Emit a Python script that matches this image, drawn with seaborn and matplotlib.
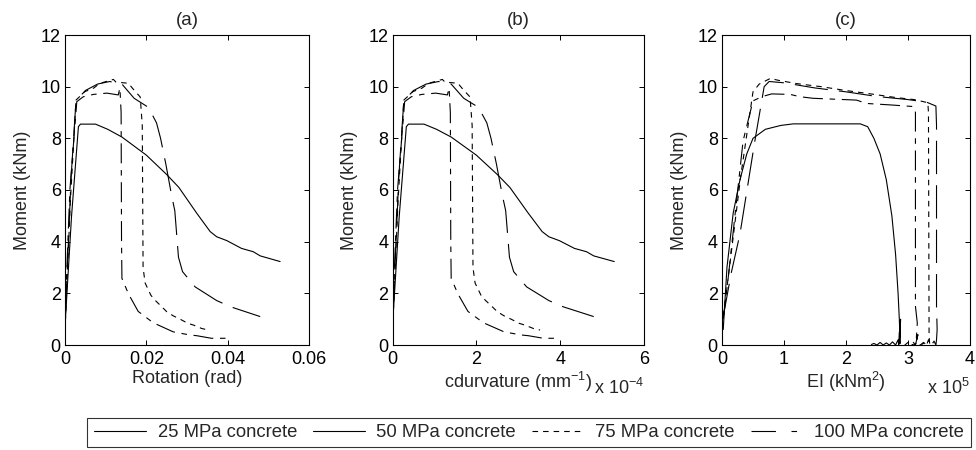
import matplotlib
matplotlib.use("Agg")
import matplotlib.pyplot as plt
from matplotlib.lines import Line2D
from matplotlib.ticker import FuncFormatter
import pandas as pd
import seaborn as sns

# ---------------- data ----------------
series = ["25 MPa concrete", "50 MPa concrete", "75 MPa concrete", "100 MPa concrete"]

# (a) Moment vs rotation (rad)
rot_25 = [0.0001, 0.0016, 0.0033, 0.0038, 0.0075, 0.0105, 0.014, 0.017, 0.020, 0.025,
          0.028, 0.0324, 0.0357, 0.0373, 0.0398, 0.0434, 0.0463, 0.048, 0.0529]
m_25 = [1.0, 4.97, 8.45, 8.55, 8.55, 8.35, 8.05, 7.7, 7.35, 6.6,
        6.1, 5.1, 4.39, 4.19, 4.04, 3.74, 3.61, 3.45, 3.23]

rot_50 = [0.0001, 0.0015, 0.0027, 0.005, 0.008, 0.011, 0.014, 0.017, 0.0205, 0.0225,
          0.0235, 0.0248, 0.0262, 0.027, 0.0279, 0.0289, 0.032, 0.0373, 0.0407, 0.048]
m_50 = [1.2, 6.5, 9.45, 9.85, 10.1, 10.2, 10.1, 9.55, 9.2, 8.6,
        8.0, 7.0, 5.8, 5.2, 3.4, 2.84, 2.25, 1.72, 1.48, 1.1]

rot_75 = [0.0001, 0.0013, 0.0027, 0.0049, 0.007, 0.0086, 0.0119, 0.0125, 0.0156, 0.0168,
          0.0185, 0.019, 0.0192, 0.0197, 0.0211, 0.0221, 0.0238, 0.025, 0.0266, 0.0283,
          0.0302, 0.0316, 0.0336, 0.0352]
m_75 = [0.9, 5.5, 9.48, 9.81, 9.94, 10.13, 10.28, 10.18, 10.13, 9.9,
        9.6, 8.5, 3.0, 2.4, 1.93, 1.74, 1.48, 1.29, 1.13, 1.0,
        0.84, 0.77, 0.64, 0.58]

rot_100 = [0.0001, 0.0012, 0.0029, 0.0045, 0.007, 0.0103, 0.0131, 0.0135, 0.0138, 0.0139,
           0.014, 0.0156, 0.018, 0.0217, 0.0266, 0.0306, 0.0324, 0.036, 0.0396]
m_100 = [1.5, 6.0, 9.42, 9.61, 9.7, 9.75, 9.68, 9.95, 9.0, 4.0,
         2.58, 1.98, 1.3, 0.86, 0.51, 0.39, 0.36, 0.26, 0.26]

# (b) curvature: same curves, x in units of 1e-4 mm^-1 (rotation over 100 mm)
curv_25 = [r * 100 for r in rot_25]
curv_50 = [r * 100 for r in rot_50]
curv_75 = [r * 100 for r in rot_75]
curv_100 = [r * 100 for r in rot_100]

# (c) Moment vs EI (x in units of 1e5 kNm^2)
ei_25 = [0.02, 0.08, 0.18, 0.29, 0.40, 0.50, 0.70, 0.95, 1.15, 2.23, 2.35, 2.45, 2.55,
         2.65, 2.74, 2.80, 2.84, 2.86, 2.87, 2.88, 2.87, 2.86, 2.85, 2.84, 2.80, 2.75,
         2.70, 2.65, 2.60, 2.55, 2.50, 2.45, 2.41]
mc_25 = [0.6, 3.0, 5.1, 6.4, 7.4, 8.0, 8.35, 8.5, 8.56, 8.56, 8.45, 8.0, 7.4,
         6.4, 5.0, 3.5, 2.0, 1.0, 0.3, 1.0, 0.05, 0.5, 0.0, 0.2, 0.0, 0.12,
         0.0, 0.08, 0.0, 0.1, 0.0, 0.06, 0.02]

ei_50 = [0.02, 0.15, 0.29, 0.53, 0.68, 0.76, 1.0, 1.5, 2.0, 2.5, 3.0, 3.3, 3.45, 3.46,
         3.46, 3.47, 3.46, 3.45, 3.42, 3.38, 3.34, 3.30, 3.26, 3.22]
mc_50 = [1.1, 2.8, 4.3, 7.9, 10.0, 10.2, 10.15, 9.95, 9.8, 9.62, 9.5, 9.4, 9.25, 8.5,
         1.5, 0.6, 0.2, 0.0, 0.15, 0.0, 0.1, 0.0, 0.08, 0.02]

ei_75 = [0.0, 0.12, 0.30, 0.50, 0.60, 0.78, 0.90, 1.2, 1.6, 2.0, 2.4, 2.8, 3.1, 3.32,
         3.33, 3.34, 3.35, 3.33, 3.30, 3.25, 3.20, 3.15, 3.10, 3.05]
mc_75 = [0.7, 3.0, 6.5, 9.8, 10.1, 10.32, 10.25, 10.12, 10.0, 9.85, 9.72, 9.58, 9.5, 9.38,
         9.0, 0.4, 0.0, 0.2, 0.0, 0.1, 0.0, 0.12, 0.0, 0.03]

ei_100 = [0.02, 0.10, 0.34, 0.50, 0.64, 0.80, 1.10, 1.26, 1.47, 2.17, 2.33, 2.74, 3.09,
          3.12, 3.12, 3.15, 3.13, 3.16, 3.12, 3.08, 3.04, 3.00, 2.95, 2.90]
mc_100 = [1.0, 2.6, 7.9, 9.45, 9.61, 9.72, 9.70, 9.61, 9.55, 9.48, 9.35, 9.29, 9.23,
          9.0, 1.5, 0.85, 0.1, 0.4, 0.0, 0.12, 0.0, 0.1, 0.0, 0.03]

# ---------------- styling ----------------
sns.set_style("white")
plt.rcParams["font.family"] = ["Liberation Sans", "DejaVu Sans"]
plt.rcParams["mathtext.fontset"] = "custom"
plt.rcParams["mathtext.rm"] = "Liberation Sans"
plt.rcParams["mathtext.it"] = "Liberation Sans:italic"

styles = {
    "25 MPa concrete": "-",
    "50 MPa concrete": (0, (30, 10)),
    "75 MPa concrete": (0, (5, 4.5)),
    "100 MPa concrete": (0, (18, 6, 5, 6)),
}
LW = 0.8
FS = 13

fig = plt.figure(figsize=(9.76, 4.5), dpi=100)
W, H = 976, 450
boxes = [(65, 244), (392.5, 251.5), (722, 248)]
axes = [fig.add_axes([l / W, (H - 345) / H, w / W, 310 / H]) for l, w in boxes]


def draw(ax, xs, ys):
    for name, x, y in zip(series, xs, ys):
        df = pd.DataFrame({"x": x, "y": y})
        sns.lineplot(data=df, x="x", y="y", ax=ax, sort=False, estimator=None,
                     color="black", linewidth=LW, linestyle=styles[name], legend=False)


draw(axes[0], [rot_25, rot_50, rot_75, rot_100], [m_25, m_50, m_75, m_100])
draw(axes[1], [curv_25, curv_50, curv_75, curv_100], [m_25, m_50, m_75, m_100])
draw(axes[2], [ei_25, ei_50, ei_75, ei_100], [mc_25, mc_50, mc_75, mc_100])

fmt = FuncFormatter(lambda v, p: f"{v:g}")
xlims = [(0, 0.06), (0, 6), (0, 4)]
xticks = [[0, 0.02, 0.04, 0.06], [0, 2, 4, 6], [0, 1, 2, 3, 4]]
titles = ["(a)", "(b)", "(c)"]
xlabels = ["Rotation (rad)", r"cdurvature (mm$^{-1}$)", r"EI (kNm$^{2}$)"]

for ax, xl, xt, tt, xlab in zip(axes, xlims, xticks, titles, xlabels):
    ax.set_xlim(*xl)
    ax.set_ylim(0, 12)
    ax.set_xticks(xt)
    ax.set_yticks([0, 2, 4, 6, 8, 10, 12])
    ax.xaxis.set_major_formatter(fmt)
    ax.yaxis.set_major_formatter(fmt)
    ax.tick_params(direction="in", length=3.5, width=0.7, top=True, right=True,
                   bottom=True, left=True, labelsize=FS, colors="black", pad=4)
    ax.tick_params(axis="y", pad=3)
    for s in ax.spines.values():
        s.set_color("black")
        s.set_linewidth(0.8)
    ax.set_title(tt, fontsize=13.5, pad=7)
    ax.set_xlabel(xlab, fontsize=13, labelpad=2)
    ax.set_ylabel("Moment (kNm)", fontsize=13, labelpad=7)

axes[1].text(1.0, -0.14, r"x 10$^{-4}$", transform=axes[1].transAxes,
             ha="right", va="center", fontsize=13)
axes[2].text(1.0, -0.14, r"x 10$^{5}$", transform=axes[2].transAxes,
             ha="right", va="center", fontsize=13)

handles = [
    Line2D([], [], color="black", lw=LW, linestyle="-"),
    Line2D([], [], color="black", lw=LW, linestyle="-"),
    Line2D([], [], color="black", lw=LW, linestyle=(0, (5, 4.5))),
    Line2D([], [], color="black", lw=LW, linestyle=(0, (22, 14, 5, 40))),
]
leg = fig.legend(handles, series, loc="center", ncol=4,
                 bbox_to_anchor=((86 + 972) / 2 / W, 1 - 432.5 / H),
                 fontsize=13.3, frameon=True, fancybox=False, handlelength=2.85,
                 handletextpad=0.6, columnspacing=0.85, borderpad=0.35)
leg.get_frame().set_edgecolor("black")
leg.get_frame().set_linewidth(0.8)

fig.savefig("out.png", dpi=100)
